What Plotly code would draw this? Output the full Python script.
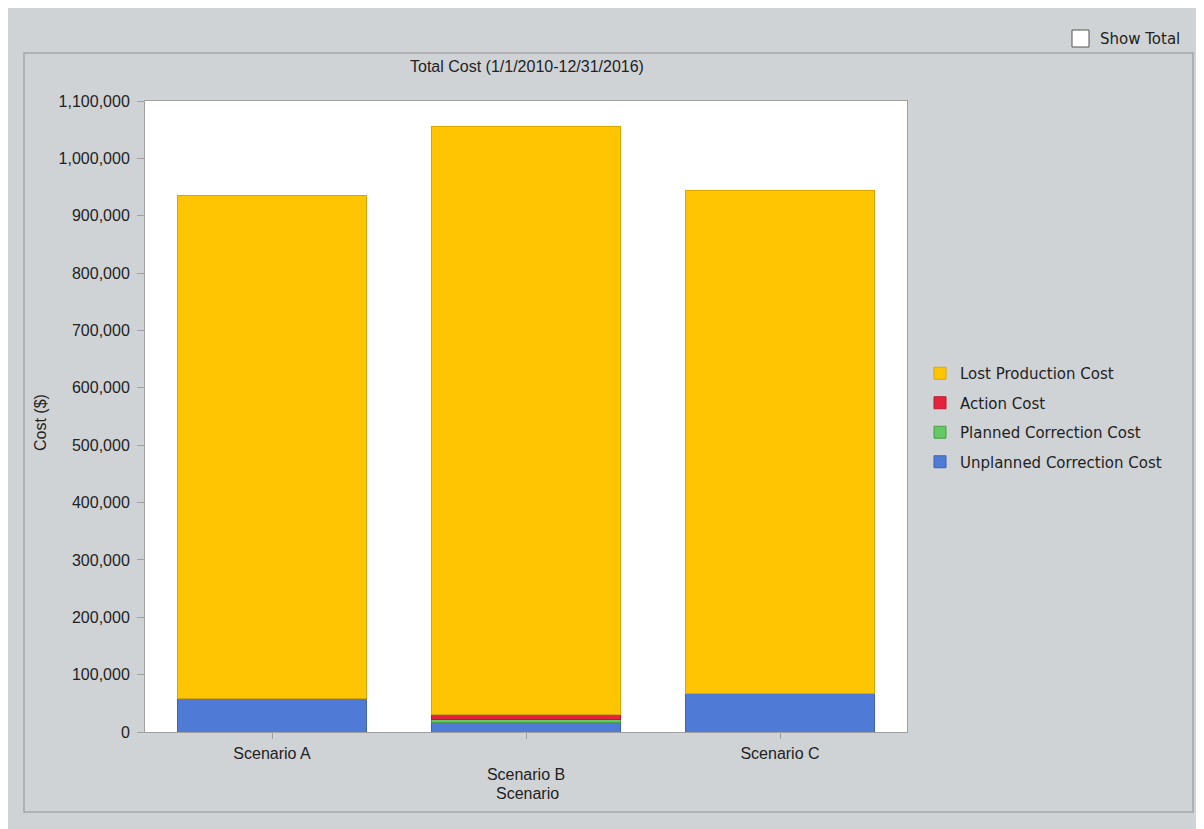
import plotly.graph_objects as go

categories = ["Scenario A", "Scenario B", "Scenario C"]
tick_labels = ["Scenario A", "<br>Scenario B", "Scenario C"]
unplanned = [59000, 16000, 67500]
planned = [0, 5000, 0]
action = [0, 9000, 0]
lost_production = [876000, 1025000, 876000]

series = [
    ("Unplanned Correction Cost", unplanned, "#4F7AD5", "#3D62B0"),
    ("Planned Correction Cost", planned, "#64C864", "#4A9E4A"),
    ("Action Cost", action, "#E5233F", "#B81A30"),
    ("Lost Production Cost", lost_production, "#FFC502", "#D9A600"),
]

OFF = 8  # page body margin
W, H = 1204 - OFF, 829 - OFF
L, R, T, B = 145 - OFF, 907 - OFF, 101 - OFF, 732 - OFF

def px(x):
    return (x - OFF - L) / (R - L)
def py(y):
    return (B - (y - OFF)) / (B - T)

fig = go.Figure()
n = len(series)
for i, (name, vals, col, edge) in enumerate(series):
    fig.add_trace(go.Bar(
        x=categories, y=vals, name=name, legendgroup=f"g{i}",
        legendrank=n - i,
        marker=dict(color=col, line=dict(color=edge, width=1)),
        width=0.745,
    ))

font_family = "Liberation Sans, Arial, sans-serif"
txt = "#222222"
fig.update_layout(
    width=W, height=H,
    barmode="stack",
    paper_bgcolor="#D0D3D6",
    plot_bgcolor="#FFFFFF",
    margin=dict(l=L, r=W - R, t=T, b=H - B, pad=0),
    font=dict(family=font_family, size=16, color=txt),
    showlegend=True,
    legend=dict(
        traceorder="grouped",
        tracegroupgap=7,
        x=px(920), y=py(357), xanchor="left", yanchor="top",
        bgcolor="rgba(0,0,0,0)",
        font=dict(family="DejaVu Sans, sans-serif", size=15, color=txt),
        itemwidth=30,
    ),
    xaxis=dict(
        tickmode="array", tickvals=categories, ticktext=tick_labels,
        range=[-0.5, 2.5],
        showline=True, linecolor="#A0A0A0", linewidth=1, mirror=True,
        ticks="outside", ticklen=6, tickcolor="#A0A0A0",
        ticklabelstandoff=1,
        showgrid=False, zeroline=False,
        tickfont=dict(size=16),
    ),
    yaxis=dict(
        range=[0, 1100000], dtick=100000, tickformat=",d",
        showline=True, linecolor="#A0A0A0", linewidth=1, mirror=True,
        ticks="outside", ticklen=7, tickcolor="#A0A0A0",
        ticklabelstandoff=4,
        showgrid=False, zeroline=False,
        tickfont=dict(size=16),
    ),
)

# outer frame panel
fig.add_shape(type="rect", xref="paper", yref="paper",
              x0=px(24), x1=px(1193), y0=py(812), y1=py(53),
              line=dict(color="#A4A7AA", width=1.5), fillcolor="rgba(0,0,0,0)", layer="below")

# checkbox
fig.add_shape(type="rect", xref="paper", yref="paper",
              x0=px(1072), x1=px(1089), y0=py(47), y1=py(30),
              line=dict(color="#555555", width=1), fillcolor="#FFFFFF")
fig.add_annotation(text="Show Total", xref="paper", yref="paper",
                   x=px(1098), y=py(39), xanchor="left", yanchor="middle",
                   showarrow=False, font=dict(family="DejaVu Sans, sans-serif", size=15, color=txt))

# title
fig.add_annotation(text="Total Cost (1/1/2010-12/31/2016)", xref="paper", yref="paper",
                   x=px(527), y=py(66), xanchor="center", yanchor="middle",
                   showarrow=False, font=dict(size=16, color=txt))
# y title
fig.add_annotation(text="Cost ($)", xref="paper", yref="paper",
                   x=px(41), y=py(423), xanchor="center", yanchor="middle", textangle=-90,
                   showarrow=False, font=dict(size=16, color=txt))
# x title
fig.add_annotation(text="Scenario", xref="paper", yref="paper",
                   x=px(527), y=py(793), xanchor="center", yanchor="middle",
                   showarrow=False, font=dict(size=16, color=txt))

fig.write_html("out.html")
